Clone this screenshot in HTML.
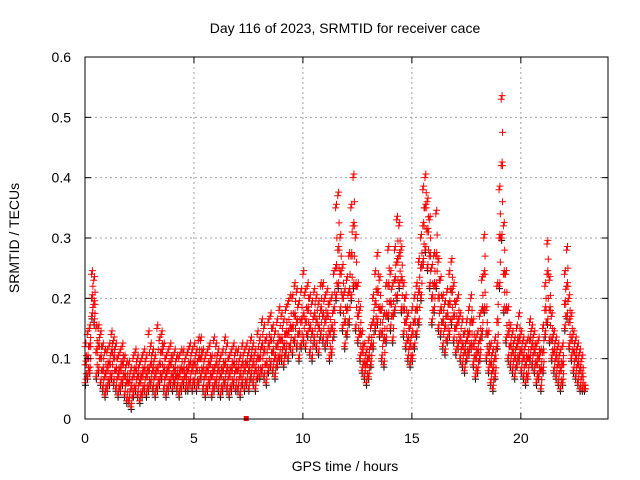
<!DOCTYPE html>
<html><head><meta charset="utf-8"><style>
body{margin:0;background:#fff}
svg{display:block;font-family:"Liberation Sans",sans-serif}
</style></head><body>
<svg id="chart" width="640" height="480" viewBox="0 0 640 480">
<text x="345" y="33" font-size="14" text-anchor="middle">Day 116 of 2023, SRMTID for receiver cace</text>
<text transform="translate(19,238) rotate(-90)" font-size="14" text-anchor="middle">SRMTID / TECUs</text>
<text x="345" y="471" font-size="14" text-anchor="middle">GPS time / hours</text>
<g id="grid"></g><g id="marks"></g><g id="axes"></g>
</svg>
<script>
const xTicks=[0,5,10,15,20];
const yTicks=[0,0.1,0.2,0.3,0.4,0.5,0.6];
const yTickLabels=["0","0.1","0.2","0.3","0.4","0.5","0.6"];
const tStart=0, tStep=0.1;
const lowVals=[.06,.07,.08,.17,.16,.07,.08,.06,.05,.04,
.05,.06,.07,.06,.05,.04,.05,.06,.04,.03,
.03,.02,.04,.05,.04,.03,.04,.05,.04,.05,
.06,.05,.04,.05,.06,.07,.05,.04,.05,.06,
.05,.06,.05,.04,.05,.06,.05,.05,.06,.05,
.06,.05,.06,.07,.05,.04,.05,.06,.04,.05,
.06,.05,.04,.05,.06,.05,.04,.05,.06,.05,
.05,.04,.06,.05,.06,.05,.07,.06,.05,.07,
.07,.08,.07,.06,.08,.09,.08,.07,.09,.10,
.10,.09,.11,.10,.12,.11,.13,.12,.10,.12,
.13,.12,.14,.11,.10,.13,.12,.11,.14,.13,
.12,.13,.10,.11,.14,.20,.22,.18,.15,.12,
.14,.16,.20,.22,.15,.13,.10,.08,.07,.06,
.07,.09,.12,.15,.16,.14,.10,.09,.13,.17,
.15,.13,.18,.20,.22,.18,.14,.12,.10,.09,
.10,.12,.14,.16,.20,.26,.28,.25,.22,.16,
.18,.22,.15,.14,.12,.11,.13,.14,.16,.13,
.11,.12,.10,.09,.08,.10,.11,.12,.09,.07,
.08,.10,.14,.18,.10,.08,.06,.05,.07,.12,
.22,.30,.18,.13,.10,.09,.08,.07,.09,.10,
.08,.07,.06,.07,.10,.09,.08,.06,.07,.05,
.08,.14,.16,.13,.10,.08,.07,.06,.05,.06,
.15,.17,.12,.10,.08,.07,.06,.05,.05,.05];
const midVals=[.09,.10,.12,.20,.19,.11,.12,.10,.08,.07,
.08,.09,.11,.10,.08,.07,.08,.09,.07,.06,
.06,.05,.07,.08,.07,.06,.07,.08,.07,.08,
.09,.08,.07,.08,.09,.11,.08,.07,.08,.09,
.07,.08,.07,.07,.08,.08,.07,.08,.09,.08,
.09,.08,.10,.10,.08,.07,.08,.09,.07,.08,
.09,.08,.07,.08,.09,.08,.07,.08,.09,.08,
.08,.07,.09,.08,.09,.08,.10,.09,.08,.10,
.10,.12,.11,.09,.12,.13,.11,.10,.12,.13,
.13,.12,.14,.14,.15,.15,.17,.16,.14,.16,
.17,.16,.18,.15,.14,.17,.16,.15,.18,.17,
.16,.17,.14,.15,.18,.25,.28,.24,.20,.16,
.18,.21,.27,.32,.22,.17,.14,.11,.09,.09,
.10,.12,.16,.19,.21,.18,.14,.13,.17,.22,
.19,.17,.23,.26,.27,.23,.18,.16,.13,.12,
.14,.16,.18,.21,.25,.32,.35,.31,.27,.20,
.22,.27,.20,.18,.16,.15,.17,.19,.21,.17,
.15,.16,.13,.12,.11,.13,.14,.16,.12,.10,
.11,.13,.18,.24,.14,.11,.09,.08,.10,.16,
.30,.42,.24,.18,.14,.12,.11,.10,.12,.13,
.11,.10,.09,.10,.13,.12,.11,.09,.10,.08,
.11,.18,.24,.18,.13,.11,.10,.09,.08,.09,
.19,.22,.16,.13,.11,.10,.09,.08,.07,.05];
const highVals=[.12,.14,.15,.24,.23,.15,.15,.14,.12,.11,
.11,.12,.14,.13,.12,.10,.11,.12,.10,.09,
.09,.08,.10,.11,.10,.09,.10,.11,.10,.14,
.12,.11,.10,.15,.13,.14,.12,.10,.11,.12,
.10,.11,.10,.10,.11,.11,.10,.11,.12,.11,
.12,.11,.13,.13,.11,.10,.11,.12,.10,.13,
.12,.11,.10,.11,.13,.12,.10,.11,.12,.11,
.11,.10,.12,.11,.12,.11,.13,.12,.11,.14,
.13,.16,.15,.13,.16,.17,.15,.14,.16,.18,
.17,.16,.18,.19,.20,.20,.22,.21,.19,.21,
.24,.21,.22,.20,.19,.21,.20,.19,.22,.22,
.20,.21,.19,.20,.24,.35,.37,.30,.25,.21,
.23,.27,.35,.40,.30,.22,.18,.14,.12,.11,
.13,.15,.20,.24,.27,.23,.18,.17,.22,.28,
.24,.22,.28,.33,.32,.28,.22,.20,.17,.15,
.18,.20,.22,.26,.30,.38,.40,.36,.33,.25,
.27,.34,.26,.23,.20,.19,.21,.24,.26,.22,
.19,.20,.17,.16,.14,.16,.18,.20,.16,.13,
.14,.17,.23,.30,.18,.14,.12,.11,.13,.22,
.38,.53,.32,.24,.18,.15,.14,.13,.15,.17,
.14,.13,.12,.13,.16,.15,.14,.12,.13,.11,
.15,.22,.29,.23,.17,.14,.13,.12,.11,.12,
.24,.28,.20,.17,.14,.13,.12,.11,.10,.05];
const NS="http://www.w3.org/2000/svg";
const L=85,R=608,T=57,B=419,xMax=24,yMax=0.6;
const xs=v=>L+(v/xMax)*(R-L);
const ys=v=>B-(v/yMax)*(B-T);
function mk(tag,attrs,parent){const e=document.createElementNS(NS,tag);for(const k in attrs)e.setAttribute(k,attrs[k]);parent.appendChild(e);return e;}
const grid=document.getElementById('grid'),axes=document.getElementById('axes'),marks=document.getElementById('marks');
xTicks.forEach(t=>{
 if(t>0){const g=mk('line',{x1:xs(t),x2:xs(t),y1:T,y2:B,stroke:'#a0a0a0','stroke-dasharray':'2,3'},grid);
 
 }
 mk('line',{x1:xs(t),x2:xs(t),y1:B,y2:B-6,stroke:'#000'},axes);
 mk('line',{x1:xs(t),x2:xs(t),y1:T,y2:T+6,stroke:'#000'},axes);
 const lb=mk('text',{x:xs(t),y:B+24,'font-size':14,'text-anchor':'middle'},axes);lb.textContent=t;
 
 
});
yTicks.forEach((t,i)=>{
 if(t>0&&t<yMax){const g=mk('line',{x1:L,x2:R,y1:ys(t),y2:ys(t),stroke:'#a0a0a0','stroke-dasharray':'2,3'},grid);
 
 }
 mk('line',{x1:L,x2:L+6,y1:ys(t),y2:ys(t),stroke:'#000'},axes);
 mk('line',{x1:R,x2:R-6,y1:ys(t),y2:ys(t),stroke:'#000'},axes);
 const lb=mk('text',{x:L-14,y:ys(t)+5,'font-size':14,'text-anchor':'end'},axes);lb.textContent=yTickLabels[i];
 
 
});
const frame=mk('rect',{x:L,y:T,width:R-L,height:B-T,fill:'none',stroke:'#000'},axes);


function plus(t,v,color){
 const x=xs(t),y=ys(v);
 const p=mk('path',{d:`M${x-3.5},${y}h7M${x},${y-3.5}v7`,stroke:color,'stroke-width':1,fill:'none'},marks);
 
 
}
lowVals.forEach((v,i)=>{plus(tStart+i*tStep+0.02,v-0.004,'#000');});
[lowVals,midVals,highVals].forEach(arr=>{
 arr.forEach((v,i)=>{
  const t=tStart+i*tStep;
  plus(t,v,'#f00');
  plus(t+0.04,v+0.006,'#f00');
  plus(t+0.06,(v+midVals[i])/2,'#f00');
 });
});
const sq=mk('rect',{x:xs(7.4)-2.5,y:B-3,width:5,height:5,fill:'#f00'},marks);


</script>
</body></html>
